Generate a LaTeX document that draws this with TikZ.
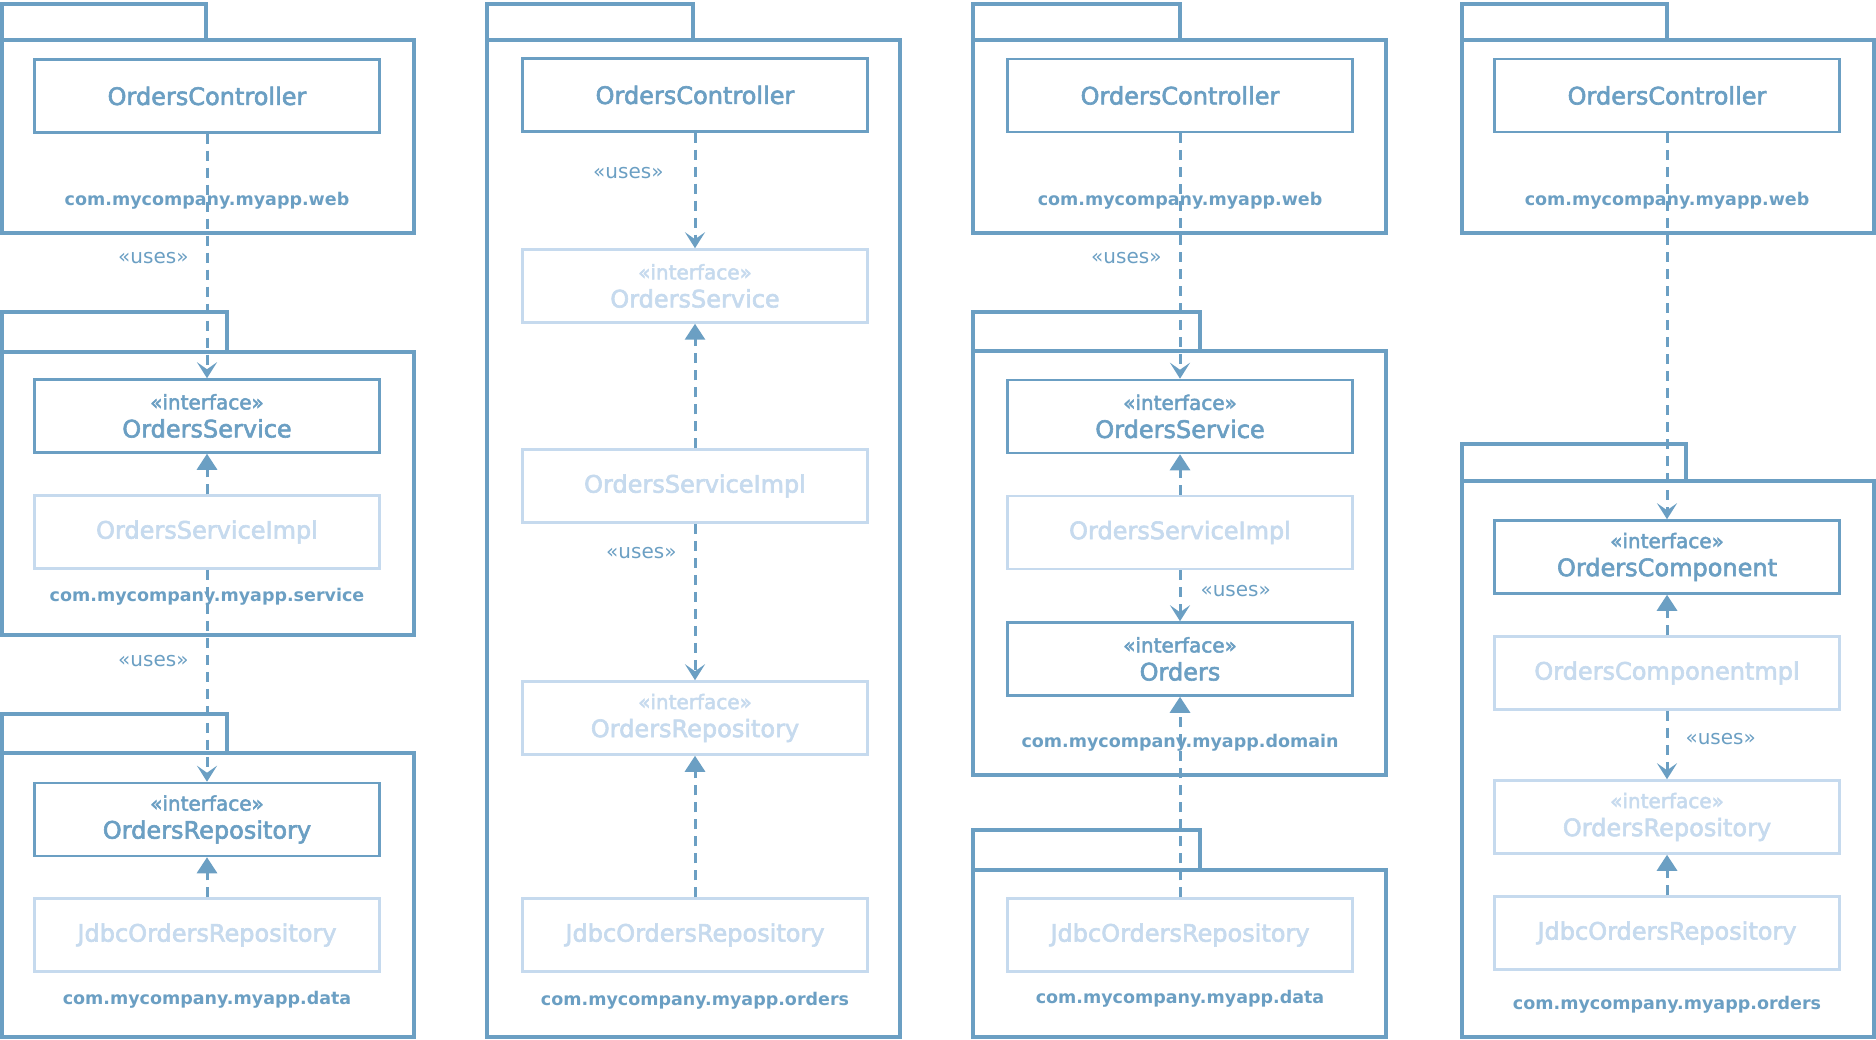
\documentclass[tikz,border=0pt]{standalone}
\usepackage{fontspec}
\setmainfont{DejaVu Sans}
\newfontfamily\classfont{DejaVu Sans}[FakeBold=2.5]
\usepackage{xcolor}
\definecolor{umlcolLine}{HTML}{6B9FC3}
\definecolor{umlcolFaded}{HTML}{C6DAEE}
\usepackage{tikz}
\usetikzlibrary{arrows.meta,positioning}
\tikzset{
    classbox/.style={
        draw=umlcolLine,
        fill=white,
        rectangle,
        line width=2.5pt,
        minimum width=345pt,
        minimum height=73pt,
        align=center,
        text=umlcolLine,
        font=\classfont\fontsize{24}{28}\selectfont
    },
    fadedbox/.style={
        classbox,
        draw=umlcolFaded,
        text=umlcolFaded
    },
    package/.style={
        draw=umlcolLine,
        line width=3.5pt
    },
    pkglabel/.style={
        text=umlcolLine,
        inner sep=2pt,
        font=\bfseries\fontsize{17.5}{22}\selectfont
    },
    uses/.style={
        -{Stealth[length=16pt,width=20pt,inset=7pt]},
        dash pattern=on 10pt off 7pt,
        line width=3pt,
        color=umlcolLine
    },
    realizes/.style={
        -{Triangle[length=16pt,width=20pt]},
        dash pattern=on 10pt off 7pt,
        line width=3pt,
        color=umlcolLine
    },
    useslabel/.style={
        text=umlcolLine,
        inner sep=2pt,
        font=\fontsize{20}{24}\selectfont
    }
}

\begin{document}
\begin{tikzpicture}[x=1pt,y=-1pt]
    \useasboundingbox (0,0) rectangle (1876,1040);

    % Packages
    \draw[package] (2,4) rectangle (206,40) (2,40) rectangle (414,233);
    \draw[package] (2,312) rectangle (227,352) (2,352) rectangle (414,635);
    \draw[package] (2,714) rectangle (227,753) (2,753) rectangle (414,1037);
    \draw[package] (487,4) rectangle (693,40) (487,40) rectangle (900,1037);
    \draw[package] (973,4) rectangle (1180,40) (973,40) rectangle (1386,233);
    \draw[package] (973,312) rectangle (1200,351) (973,351) rectangle (1386,775);
    \draw[package] (973,830) rectangle (1200,870) (973,870) rectangle (1386,1037);
    \draw[package] (1462,4) rectangle (1667,40) (1462,40) rectangle (1874,233);
    \draw[package] (1462,444) rectangle (1686,481) (1462,481) rectangle (1874,1037);

    % Package names
    \node[pkglabel] (webA) at (207,201) {com.mycompany.myapp.web};
    \node[pkglabel] (serviceA) at (207,597) {com.mycompany.myapp.service};
    \node[pkglabel] (dataA) at (207,1000) {com.mycompany.myapp.data};
    \node[pkglabel] (ordersB) at (695,1001) {com.mycompany.myapp.orders};
    \node[pkglabel] (webC) at (1180,201) {com.mycompany.myapp.web};
    \node[pkglabel] (domainC) at (1180,743) {com.mycompany.myapp.domain};
    \node[pkglabel] (dataC) at (1180,999) {com.mycompany.myapp.data};
    \node[pkglabel] (webD) at (1667,201) {com.mycompany.myapp.web};
    \node[pkglabel] (ordersD) at (1667,1005) {com.mycompany.myapp.orders};

    % Layered: web / service / data
    \node[classbox] (ctrlA) at (207,96) {OrdersController};
    \node[classbox, below=244.5pt of ctrlA] (svcA)
        {{\fontsize{20}{28}\selectfont «interface»}\\OrdersService};
    \node[fadedbox, below=40.5pt of svcA] (implA) {OrdersServiceImpl};
    \node[classbox, below=212pt of implA] (repoA)
        {{\fontsize{20}{28}\selectfont «interface»}\\OrdersRepository};
    \node[fadedbox, below=40pt of repoA] (jdbcA) {JdbcOrdersRepository};

    % Package by feature
    \node[classbox] (ctrlB) at (695,95) {OrdersController};
    \node[fadedbox, below=115.5pt of ctrlB] (svcB)
        {{\fontsize{20}{28}\selectfont «interface»}\\OrdersService};
    \node[fadedbox, below=124.5pt of svcB] (implB) {OrdersServiceImpl};
    \node[fadedbox, below=156.5pt of implB] (repoB)
        {{\fontsize{20}{28}\selectfont «interface»}\\OrdersRepository};
    \node[fadedbox, below=141.5pt of repoB] (jdbcB) {JdbcOrdersRepository};

    % Ports and adapters
    \node[classbox] (ctrlC) at (1180,95.5) {OrdersController};
    \node[classbox, below=245.5pt of ctrlC] (svcC)
        {{\fontsize{20}{28}\selectfont «interface»}\\OrdersService};
    \node[fadedbox, below=40.5pt of svcC] (implC) {OrdersServiceImpl};
    \node[classbox, below=51pt of implC] (domC)
        {{\fontsize{20}{28}\selectfont «interface»}\\Orders};
    \node[fadedbox, below=200.5pt of domC] (jdbcC) {JdbcOrdersRepository};

    % Package by component
    \node[classbox] (ctrlD) at (1667,95.5) {OrdersController};
    \node[classbox, below=386pt of ctrlD] (compD)
        {{\fontsize{20}{28}\selectfont «interface»}\\OrdersComponent};
    \node[fadedbox, below=40.5pt of compD] (implD) {OrdersComponentmpl};
    \node[fadedbox, below=68.5pt of implD] (repoD)
        {{\fontsize{20}{28}\selectfont «interface»}\\OrdersRepository};
    \node[fadedbox, below=40.5pt of repoD] (jdbcD) {JdbcOrdersRepository};

    % Connections
    \draw[uses] (ctrlA) -- node[useslabel, pos=0.51, left=15pt] {«uses»} (svcA);
    \draw[realizes] (implA) -- (svcA);
    \draw[uses] (implA) -- node[useslabel, pos=0.43, left=15pt] {«uses»} (repoA);
    \draw[realizes] (jdbcA) -- (repoA);

    \draw[uses] (ctrlB) -- node[useslabel, pos=0.35, left=28pt] {«uses»} (svcB);
    \draw[realizes] (implB) -- (svcB);
    \draw[uses] (implB) -- node[useslabel, pos=0.19, left=15pt] {«uses»} (repoB);
    \draw[realizes] (jdbcB) -- (repoB);

    \draw[uses] (ctrlC) -- node[useslabel, pos=0.51, left=15pt] {«uses»} (svcC);
    \draw[realizes] (implC) -- (svcC);
    \draw[uses] (implC) -- node[useslabel, pos=0.41, right=17pt] {«uses»} (domC);
    \draw[realizes] (jdbcC) -- (domC);

    \draw[uses] (ctrlD) -- (compD);
    \draw[realizes] (implD) -- (compD);
    \draw[uses] (implD) -- node[useslabel, pos=0.41, right=15pt] {«uses»} (repoD);
    \draw[realizes] (jdbcD) -- (repoD);
\end{tikzpicture}
\end{document}
